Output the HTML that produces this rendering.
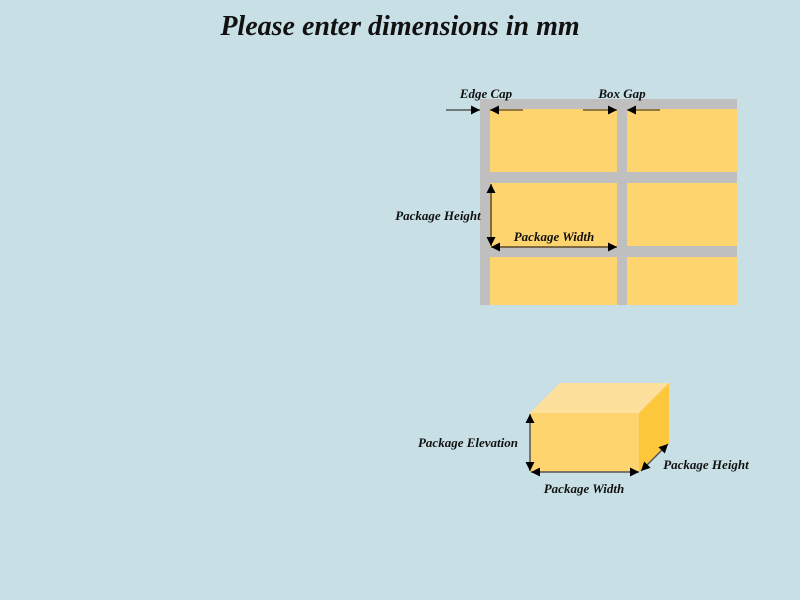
<!DOCTYPE html>
<html><head><meta charset="utf-8"><style>
html,body{margin:0;padding:0;background:#c8dfe5;}
svg{display:block}
text{font-family:"Liberation Serif",serif;font-style:italic;font-weight:bold;fill:#111;}
</style></head><body>
<svg width="800" height="600" viewBox="0 0 800 600">
<defs>
<marker id="ah" viewBox="0 0 10 10" refX="10" refY="5" markerWidth="7" markerHeight="7" markerUnits="userSpaceOnUse" orient="auto-start-reverse"><path d="M0,0L10,5L0,10z" fill="#000"/></marker>
<marker id="ahb" viewBox="0 0 10 10" refX="10" refY="5" markerWidth="9" markerHeight="9" markerUnits="userSpaceOnUse" orient="auto-start-reverse"><path d="M0,0L10,5L0,10z" fill="#000"/></marker>
</defs>
<rect width="800" height="600" fill="#c8dfe5"/>
<text x="400" y="35" font-size="28" text-anchor="middle">Please enter dimensions in mm</text>

<g>
<rect x="480" y="99" width="257" height="206" fill="#bfbfbf"/>
<rect x="490" y="109" width="127" height="63" fill="#fed46f"/>
<rect x="627" y="109" width="110" height="63" fill="#fed46f"/>
<rect x="490" y="183" width="127" height="64" fill="#fed46f"/>
<rect x="627" y="183" width="110" height="63" fill="#fed46f"/>
<rect x="490" y="257" width="127" height="48" fill="#fed46f"/>
<rect x="627" y="257" width="110" height="48" fill="#fed46f"/>
</g>
<g stroke="#555" stroke-width="1.5" fill="none">
<line x1="446" y1="110" x2="480" y2="110" marker-end="url(#ahb)"/>
<line x1="523" y1="110" x2="490" y2="110" stroke="#6b5a30" marker-end="url(#ahb)"/>
<line x1="583" y1="110" x2="617" y2="110" stroke="#6b5a30" marker-end="url(#ahb)"/>
<line x1="660" y1="110" x2="627" y2="110" stroke="#6b5a30" marker-end="url(#ahb)"/>
<line x1="491" y1="184" x2="491" y2="246" stroke="#5a4a2a" marker-start="url(#ahb)" marker-end="url(#ahb)"/>
<line x1="491" y1="247" x2="617" y2="247" stroke="#5a4a2a" marker-start="url(#ahb)" marker-end="url(#ahb)"/>
</g>
<text x="486" y="98" font-size="13" text-anchor="middle">Edge Cap</text>
<text x="622" y="98" font-size="13" text-anchor="middle">Box Gap</text>
<text x="438" y="220" font-size="13" text-anchor="middle">Package Height</text>
<text x="554" y="241" font-size="13" text-anchor="middle">Package Width</text>

<g>
<polygon points="530,413 560,383 669,383 639,413" fill="#fde09b"/>
<polygon points="639,413 669,383 669,443 639,472" fill="#fdc73c"/>
<rect x="530" y="413" width="109" height="59" fill="#fed46f"/>
</g>
<g stroke="#555" stroke-width="1.5" fill="none">
<line x1="530" y1="414" x2="530" y2="471" marker-start="url(#ahb)" marker-end="url(#ahb)"/>
<line x1="531" y1="472" x2="639" y2="472" marker-start="url(#ahb)" marker-end="url(#ahb)"/>
<line x1="641" y1="471" x2="668" y2="444" marker-start="url(#ahb)" marker-end="url(#ahb)"/>
</g>
<text x="468" y="447" font-size="13" text-anchor="middle">Package Elevation</text>
<text x="584" y="493" font-size="13" text-anchor="middle">Package Width</text>
<text x="706" y="469" font-size="13" text-anchor="middle">Package Height</text>
</svg>
</body></html>
